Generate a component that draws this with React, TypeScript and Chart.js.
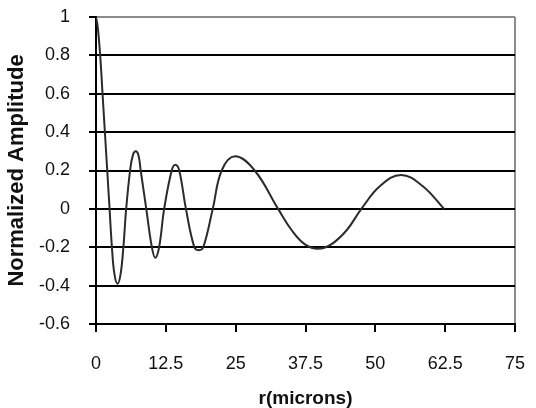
import React, { useEffect, useRef } from "react";
import { Chart, registerables } from "chart.js";

Chart.register(...registerables);

const rValues: number[] = [
  0, 0.3, 0.75, 1.17, 1.59, 2.01, 2.43, 2.85, 3.3, 3.86, 4.4, 4.9, 5.4, 6.1, 6.6, 7.1, 7.6, 8.0, 9.0,
  10.0, 10.6, 11.3, 12.2, 13.55, 14.2, 14.9, 16.1, 17.6, 18.4, 19.2, 20.9, 22.5, 24.9, 28.4,
  32.6, 35.0, 37.4, 39.75, 42.1, 44.9, 47.5, 50.8, 54.6, 58.5, 62.3,
];
const amplitude: number[] = [
  1, 0.95, 0.8, 0.6, 0.4, 0.2, 0, -0.2, -0.34, -0.39, -0.34, -0.2, 0, 0.2, 0.28, 0.3, 0.28, 0.2, 0,
  -0.2, -0.255, -0.2, 0, 0.2, 0.23, 0.2, 0, -0.2, -0.215, -0.2, 0, 0.2, 0.274, 0.2,
  0, -0.11, -0.185, -0.208, -0.185, -0.11, 0, 0.118, 0.177, 0.118, 0,
];
const xTicks: number[] = [0, 12.5, 25, 37.5, 50, 62.5, 75];
const yTicks: number[] = [-0.6, -0.4, -0.2, 0, 0.2, 0.4, 0.6, 0.8, 1];
const xTitle = "r(microns)";
const yTitle = "Normalized Amplitude";

function zeroPad(s: any) {
  s.paddingTop = 0;
  s.paddingBottom = 0;
  s.paddingLeft = 0;
  s.paddingRight = 0;
}

export default function App() {
  const ref = useRef<HTMLCanvasElement | null>(null);
  useEffect(() => {
    document.body.style.margin = "0";
    const canvas = ref.current;
    if (!canvas) return;
    const data = rValues.map((x, i) => ({ x, y: amplitude[i] }));
    const family = "'Liberation Sans', Arial, sans-serif";
    const tickFont = { family, size: 18, lineHeight: 1 };
    const xTitleFont = { family, size: 19, weight: "bold" as const, lineHeight: 1 };
    const yTitleFont = { family, size: 22, weight: "bold" as const, lineHeight: 1 };
    const chart = new Chart(canvas, {
      type: "line",
      data: {
        datasets: [
          {
            data,
            borderColor: "#2b2b2b",
            borderWidth: 2,
            pointRadius: 0,
            fill: false,
            tension: 0.4,
          },
        ],
      },
      options: {
        animation: false,
        responsive: false,
        maintainAspectRatio: false,
        layout: { padding: { top: 17, right: 21, left: 0, bottom: 0 } },
        plugins: { legend: { display: false }, tooltip: { enabled: false } },
        scales: {
          x: {
            type: "linear",
            min: 0,
            max: 75,
            afterBuildTicks: (s: any) => {
              s.ticks = xTicks.map((v) => ({ value: v }));
            },
            afterFit: (s: any) => {
              s.height = 84;
              zeroPad(s);
            },
            ticks: {
              color: "#111",
              font: tickFont,
              padding: 23,
              maxRotation: 0,
              autoSkip: false,
              callback: (v: any) => String(v),
            },
            grid: {
              color: (c: any) => (c.tick && c.tick.value === 75 ? "#8c8c8c" : "rgba(0,0,0,0)"),
              tickColor: "#000",
              lineWidth: 2,
              tickLength: 8,
            },
            border: { color: "#000", width: 2 },
            title: { display: true, text: xTitle, color: "#111", font: xTitleFont, padding: { top: 0, bottom: 0 } },
          },
          y: {
            type: "linear",
            min: -0.6,
            max: 1,
            afterBuildTicks: (s: any) => {
              s.ticks = yTicks.map((v) => ({ value: v }));
            },
            afterFit: (s: any) => {
              s.width = 96;
              zeroPad(s);
            },
            ticks: {
              color: "#111",
              font: tickFont,
              padding: 19,
              autoSkip: false,
              callback: (v: any) => String(Number(Number(v).toFixed(1))),
            },
            grid: {
              color: (c: any) => (c.tick && c.tick.value === 1 ? "#8c8c8c" : "#000"),
              tickColor: "#000",
              lineWidth: 2,
              tickLength: 7,
            },
            border: { color: "#000", width: 2 },
            title: { display: true, text: yTitle, color: "#111", font: yTitleFont, padding: { top: 6, bottom: 0 } },
          },
        },
      },
    });
    return () => chart.destroy();
  }, []);
  return (
    <div style={{ width: 536, height: 408 }}>
      <canvas ref={ref} width={536} height={408} style={{ width: 536, height: 408, display: "block" }} />
    </div>
  );
}
